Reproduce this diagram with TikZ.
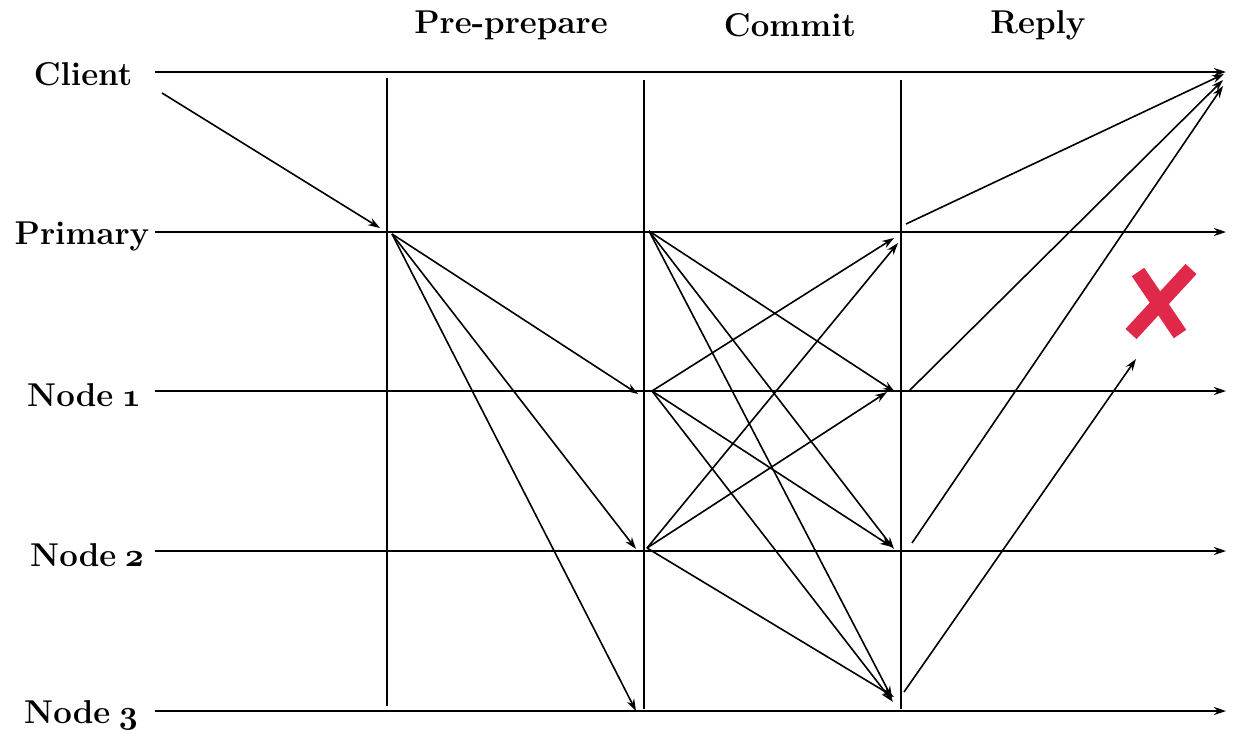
\RequirePackage{fix-cm}
\documentclass[tikz,border=0pt]{standalone}
\usetikzlibrary{arrows.meta}
\definecolor{xred}{HTML}{E0284A}
\newcommand\osn[1]{{\fontencoding{OML}\fontfamily{cmm}\fontseries{b}\fontshape{it}\selectfont #1}}
\begin{document}
\begin{tikzpicture}[x=1pt,y=-1pt,line width=1.6pt,
  msg/.style={-{Stealth[length=12pt,width=8pt]}},
  bar/.style={line width=1.6pt},
  lbl/.style={font=\bfseries\fontsize{33}{34}\selectfont,inner sep=0pt,anchor=center},
  hdr/.style={font=\bfseries\fontsize{33}{34}\selectfont,inner sep=0pt,anchor=center},
  cross/.style={draw=xred,line width=15pt,line cap=butt}]
\useasboundingbox (0,0) rectangle (1251,745);
% labels
\node[lbl] (lc) at (83,74) {Client};
\node[lbl] (lp) at (82,236) {Primary};
\node[lbl] (l1) at (84,395) {Node\hspace{-4pt} \osn{1}};
\node[lbl] (l2) at (87,555) {Node\hspace{-4pt} \osn{2}};
\node[lbl] (l3) at (81,715) {Node\hspace{-4pt} \osn{3}};
\node[hdr] (h1) at (511,25) {Pre-prepare};
\node[hdr] (h2) at (790,25) {Commit};
\node[hdr] (h3) at (1038,25) {Reply};
% timelines
\coordinate (cs) at (155,72);  \coordinate (ce) at (1226,72);
\coordinate (ps) at (155,232); \coordinate (pe) at (1226,232);
\coordinate (as) at (155,391); \coordinate (ae) at (1226,391);
\coordinate (bs) at (155,551); \coordinate (be) at (1226,551);
\coordinate (ds) at (155,711); \coordinate (de) at (1226,711);
\foreach \s/\e in {cs/ce,ps/pe,as/ae,bs/be,ds/de} \draw[msg] (\s) -- (\e);
% phase bars
\coordinate (v1t) at (387,78);  \coordinate (v1b) at (387,706);
\coordinate (v2t) at (644,80);  \coordinate (v2b) at (644,709);
\coordinate (v3t) at (901,80);  \coordinate (v3b) at (901,709);
\foreach \s/\e in {v1t/v1b,v2t/v2b,v3t/v3b} \draw[bar] (\s) -- (\e);
% request
\coordinate (rq0) at (162,93); \coordinate (rq1) at (380,228);
\draw[msg] (rq0) -- (rq1);
% pre-prepare
\coordinate (pp0) at (392,234);
\coordinate (pp1) at (638,394); \coordinate (pp2) at (636,549); \coordinate (pp3) at (636,711);
\draw[msg] (pp0) -- (pp1);
\draw[msg] (pp0) -- (pp2);
\draw[msg] (pp0) -- (pp3);
% prepare / commit
\coordinate (q0) at (649,231);
\coordinate (q1) at (652,391);
\coordinate (q2) at (647,548);
\coordinate (tp1) at (894,238); \coordinate (tp2) at (898,243);
\coordinate (ta1) at (895,392); \coordinate (ta2) at (887,392);
\coordinate (tb1) at (894,549); \coordinate (tb2) at (892,547);
\coordinate (td1) at (892,698); \coordinate (td2) at (893,702); \coordinate (td3) at (894,697);
\draw[msg] (q0) -- (ta1);
\draw[msg] (q0) -- (tb1);
\draw[msg] (q0) -- (td1);
\draw[msg] (q1) -- (tp1);
\draw[msg] (q1) -- (tb2);
\draw[msg] (q1) -- (td2);
\draw[msg] (q2) -- (tp2);
\draw[msg] (q2) -- (ta2);
\draw[msg] (q2) -- (td3);
% reply
\coordinate (r0) at (906,224); \coordinate (r1) at (909,391); \coordinate (r2) at (912,543); \coordinate (r3) at (904,692);
\coordinate (k0) at (1224,74); \coordinate (k1) at (1223,80); \coordinate (k2) at (1223,86); \coordinate (k3) at (1136,359);
\draw[msg] (r0) -- (k0);
\draw[msg] (r1) -- (k1);
\draw[msg] (r2) -- (k2);
\draw[msg] (r3) -- (k3);
% red cross
\coordinate (x1a) at (1138,272); \coordinate (x1b) at (1180,334);
\coordinate (x2a) at (1191,269); \coordinate (x2b) at (1131,334);
\draw[cross] (x1a) -- (x1b);
\draw[cross] (x2a) -- (x2b);
\end{tikzpicture}
\end{document}
